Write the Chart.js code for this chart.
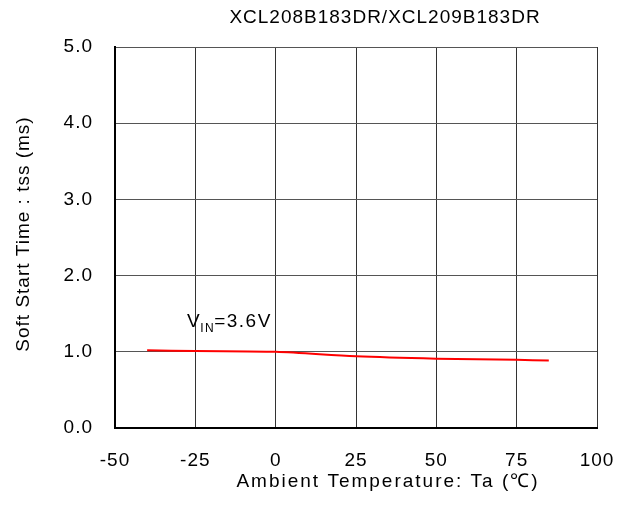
<!DOCTYPE html>
<html lang="en">
  <head>
    <meta charset="UTF-8" />
    <title>XCL208B183DR Soft Start Time</title>
    <script src="https://cdn.jsdelivr.net/npm/chart.js@4.4.1/dist/chart.umd.min.js"></script>
    <style>
      html, body { margin: 0; padding: 0; background: #fff; }
      #wrap { width: 628px; height: 519px; }
    </style>
  </head>
  <body>
    <div id="wrap"><canvas id="chart" width="628" height="519"></canvas></div>
    <script>
      const temps = [-40, -25, 0, 25, 50, 75, 85];
      const tss = [1.02, 1.01, 1.0, 0.94, 0.91, 0.895, 0.886];
      const chartTitle = "XCL208B183DR/XCL209B183DR";
      const xTitle = "Ambient Temperature: Ta (\u2103)";
      const yTitle = "Soft Start Time : tss (ms)";

      const font = "Liberation Sans, Arial, sans-serif";

      // a little letter spacing, the source text is set wide
      const spacing = {
        id: "spacing",
        beforeDraw(chart) {
          chart.ctx.letterSpacing = "1px";
        },
      };

      // free text: title, axis labels and the VIN note
      const texts = {
        id: "texts",
        afterDraw(chart) {
          const { ctx, scales } = chart;
          ctx.save();
          ctx.letterSpacing = "1px";
          ctx.fillStyle = "#000";
          ctx.font = "19px " + font;
          ctx.textAlign = "center";
          ctx.textBaseline = "middle";
          ctx.fillText(chartTitle, 385, 18);
          ctx.translate(24, 234);
          ctx.rotate(-Math.PI / 2);
          ctx.fillText(yTitle, 0, 0);
          ctx.restore();

          ctx.save();
          ctx.letterSpacing = "2px";
          ctx.fillStyle = "#000";
          ctx.font = "19px " + font;
          ctx.textAlign = "center";
          ctx.textBaseline = "middle";
          ctx.fillText(xTitle, 388, 482);
          ctx.restore();

          ctx.save();
          ctx.letterSpacing = "1.5px";
          ctx.fillStyle = "#000";
          ctx.textBaseline = "alphabetic";
          let x = scales.x.getPixelForValue(-27.6);
          const y = scales.y.getPixelForValue(1.33);
          ctx.font = "19px " + font;
          ctx.fillText("V", x, y);
          x += ctx.measureText("V").width - 1;
          ctx.font = "12px " + font;
          ctx.fillText("IN", x, y + 5);
          x += ctx.measureText("IN").width - 1;
          ctx.font = "19px " + font;
          ctx.fillText("=3.6V", x, y);
          ctx.restore();
        },
      };

      new Chart(document.getElementById("chart"), {
        type: "line",
        data: {
          datasets: [
            {
              data: temps.map((t, i) => ({ x: t, y: tss[i] })),
              borderColor: "#ff0000",
              borderWidth: 2,
              pointRadius: 0,
              tension: 0.3,
            },
          ],
        },
        options: {
          responsive: false,
          animation: false,
          layout: { padding: { top: 47, right: 31, left: 0, bottom: 0 } },
          plugins: { legend: { display: false }, tooltip: { enabled: false } },
          scales: {
            x: {
              type: "linear",
              min: -50,
              max: 100,
              afterFit(s) {
                s.height = 91;
                s.paddingLeft = 0;
                s.paddingRight = 0;
              },
              ticks: { stepSize: 25, color: "#000", padding: 21, font: { family: font, size: 19 } },
              grid: { color: "#333", lineWidth: 1, drawTicks: false },
              border: { color: "#000", width: 2 },
            },
            y: {
              min: 0,
              max: 5,
              afterFit(s) { s.width = 115; },
              ticks: {
                stepSize: 1,
                color: "#000",
                padding: 22,
                font: { family: font, size: 19 },
                callback: (v) => v.toFixed(1),
              },
              grid: { color: "#555", lineWidth: 1, drawTicks: false },
              border: { color: "#000", width: 2 },
            },
          },
        },
        plugins: [spacing, texts],
      });
    </script>
  </body>
</html>
